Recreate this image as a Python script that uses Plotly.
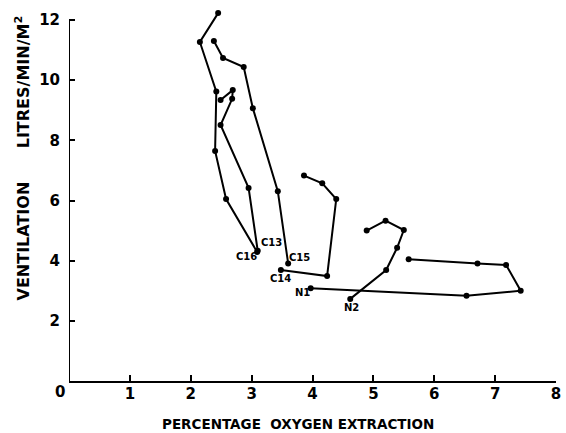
import plotly.graph_objects as go

# Oxygen extraction (%) vs ventilation (litres/min/m2) for each subject
c16_x = [2.45, 2.15, 2.42, 2.40, 2.58, 3.09]
c16_y = [12.23, 11.27, 9.62, 7.65, 6.05, 4.29]

c13_x = [3.10, 2.95, 2.49, 2.68, 2.69, 2.49]
c13_y = [4.33, 6.42, 8.51, 9.38, 9.67, 9.34]

c15_x = [3.60, 3.43, 3.02, 2.87, 2.53, 2.38]
c15_y = [3.91, 6.31, 9.07, 10.44, 10.74, 11.30]

c14_x = [3.48, 4.24, 4.39, 4.16, 3.86]
c14_y = [3.69, 3.49, 6.05, 6.57, 6.83]

n1_x = [3.97, 6.53, 7.42, 7.18, 6.71, 5.58]
n1_y = [3.08, 2.83, 3.00, 3.86, 3.91, 4.05]

n2_x = [4.62, 5.21, 5.39, 5.50, 5.20, 4.89]
n2_y = [2.73, 3.69, 4.43, 5.02, 5.33, 5.00]

series = [
    ("C16", c16_x, c16_y),
    ("C13", c13_x, c13_y),
    ("C15", c15_x, c15_y),
    ("C14", c14_x, c14_y),
    ("N1", n1_x, n1_y),
    ("N2", n2_x, n2_y),
]

# Subject tags placed next to the first point of each track
tag_names = ["C13", "C16", "C15", "C14", "N1", "N2"]
tag_x = [3.32, 2.92, 3.78, 3.47, 3.84, 4.64]
tag_y = [4.62, 4.14, 4.10, 3.40, 2.93, 2.45]

x_ticks = [1, 2, 3, 4, 5, 6, 7, 8]
y_ticks = [2, 4, 6, 8, 10, 12]
y_axis_top = 12

FONT = "DejaVu Sans"

fig = go.Figure()
for name, xs, ys in series:
    fig.add_trace(go.Scatter(
        x=xs, y=ys, name=name, mode="lines+markers",
        line=dict(color="black", width=2),
        marker=dict(color="black", size=6),
        showlegend=False, cliponaxis=False,
    ))

for t, tx, ty in zip(tag_names, tag_x, tag_y):
    fig.add_annotation(x=tx, y=ty, xref="x", yref="y", text=t, showarrow=False,
                       font=dict(family=FONT, size=10, color="black", weight="bold"))

# Vertical axis line stops at the top tick
fig.add_shape(type="line", xref="x", yref="y", x0=0, x1=0, y0=0, y1=y_axis_top,
              line=dict(color="black", width=2))

# Shared origin label
fig.add_annotation(x=(60 - 69) / 492, y=-(392 - 381) / 373, xref="paper", yref="paper",
                   xanchor="center", yanchor="middle",
                   text="0", showarrow=False,
                   font=dict(family=FONT, size=15, color="black", weight="bold"))

fig.add_annotation(x=(22 - 69) / 492, y=(381 - 158) / 373, xref="paper", yref="paper",
                   xanchor="center", yanchor="middle", textangle=-90,
                   text="VENTILATION&nbsp;&nbsp;&nbsp;&nbsp;&nbsp;&nbsp;LITRES/MIN/M<sup>2</sup>",
                   showarrow=False,
                   font=dict(family=FONT, size=16, color="black", weight="bold"))

fig.add_annotation(x=(300 - 69) / 492, y=-(424 - 381) / 373, xref="paper", yref="paper",
                   xanchor="center", yanchor="middle",
                   text="PERCENTAGE&nbsp;&nbsp;OXYGEN EXTRACTION", showarrow=False,
                   font=dict(family=FONT, size=13.5, color="black", weight="bold"))

axis_common = dict(linecolor="black", linewidth=2, ticks="inside",
                   ticklen=6, tickwidth=2, tickcolor="black", showgrid=False,
                   zeroline=False, ticklabeloverflow="allow",
                   tickfont=dict(family=FONT, size=15, color="black", weight="bold"))

fig.update_xaxes(range=[0, 8], showline=True, tickvals=x_ticks,
                 ticktext=[str(v) for v in x_ticks], ticklabelstandoff=-2, **axis_common)
fig.update_yaxes(range=[0, 12.4], showline=False, tickvals=y_ticks,
                 ticktext=[str(v) for v in y_ticks], ticklabelstandoff=8, **axis_common)

fig.update_layout(width=566, height=433, autosize=False,
                  margin=dict(l=69, r=5, t=8, b=52),
                  plot_bgcolor="white", paper_bgcolor="white")

fig.write_html("out.html")
